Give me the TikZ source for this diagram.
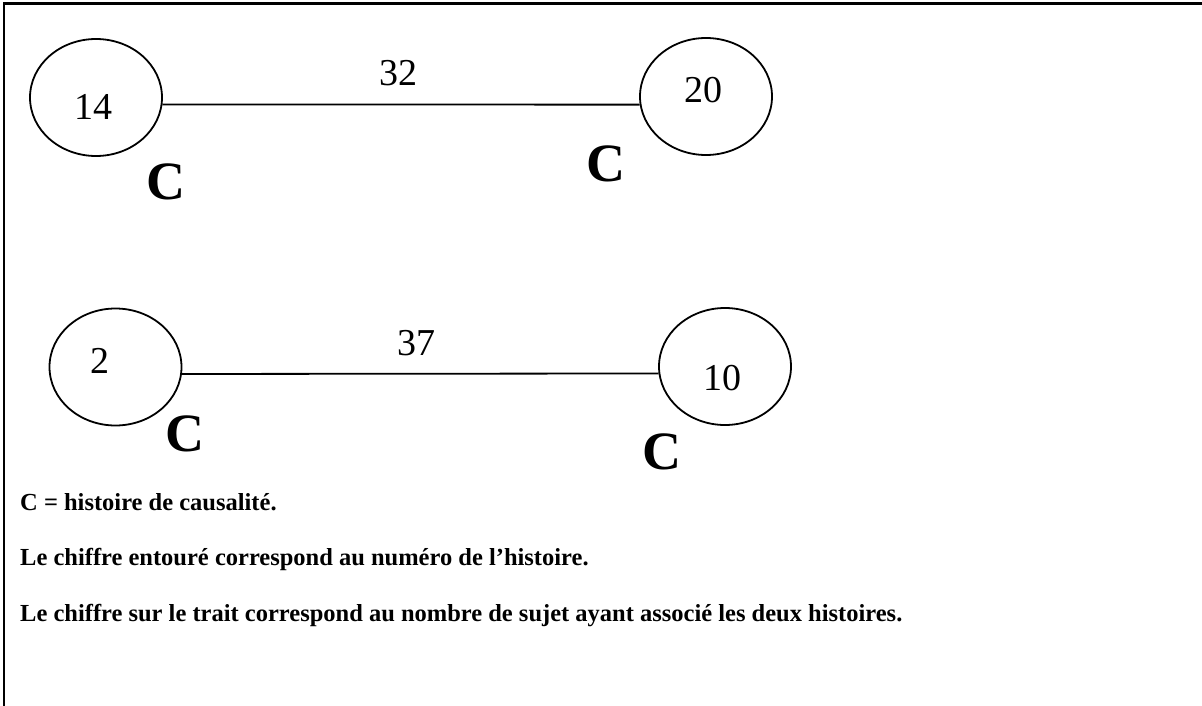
\documentclass[tikz,border=0pt]{standalone}
\usepackage{fontspec}
\setmainfont{Liberation Serif}
\usetikzlibrary{shapes.geometric,positioning}

\begin{document}
\begin{tikzpicture}[
    x=1pt, y=-1pt,
    hist/.style={draw, ellipse, line width=1.8pt, inner sep=0pt, minimum width=132pt, minimum height=117pt},
    num/.style={anchor=base, inner sep=0pt, font=\fontsize{38}{40}\selectfont},
    cause/.style={anchor=base, inner sep=0pt, font=\fontsize{54}{56}\selectfont\bfseries},
    link/.style={line width=1.8pt},
    legend/.style={anchor=base west, inner sep=0pt, font=\fontsize{24.5}{28}\selectfont\bfseries},
    frame/.style={line width=2.4pt},
]
\useasboundingbox (0,0) rectangle (1202,706);
\draw[frame] (1202,3.5) -- (4,3.5) -- (4,706);
\node[hist] (E14) at (96,97.5) {};
\node[hist] (E20) at (706,96.5) {};
\node[hist] (E2) at (115.5,367) {};
\node[hist] (E10) at (725,366.5) {};
\node[num] (N14) at (93,120) {14};
\node[num] (N20) at (703,103) {20};
\node[num] (N2) at (100,373) {2};
\node[num] (N10) at (722,390) {10};
\draw[link] (E14.-6.4) -- (E20.187.3) node[num, midway, yshift=19pt, xshift=-3pt] (L32) {32};
\draw[link] (E2.-6.4) -- (E10.186.9) node[num, midway, yshift=18pt, xshift=-4pt] (L37) {37};
\node[cause] (C14) at (166,199) {C};
\node[cause] (C20) at (606,181) {C};
\node[cause] (C2) at (185,451) {C};
\node[cause] (C10) at (662,469) {C};
\node[legend] (T1) at (20,510) {C = histoire de causalité.};
\node[legend] (T2) at (20,565) {Le chiffre entouré correspond au numéro de l’histoire.};
\node[legend] (T3) at (20,621) {Le chiffre sur le trait correspond au nombre de sujet ayant associé les deux histoires.};
\end{tikzpicture}
\end{document}
